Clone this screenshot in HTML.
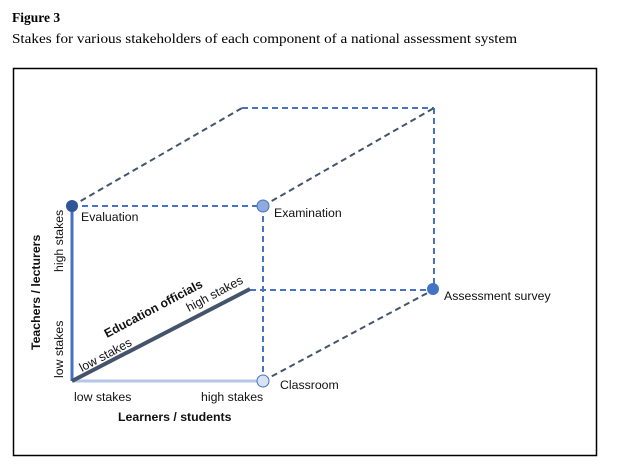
<!DOCTYPE html>
<html><head><meta charset="utf-8"><style>
html,body{margin:0;padding:0;background:#fff;width:619px;height:475px;overflow:hidden}
</style></head><body>
<svg width="619" height="475" xmlns="http://www.w3.org/2000/svg">
<text x="12" y="22" font-family="Liberation Serif, serif" font-size="13.5" font-weight="bold">Figure 3</text>
<text x="12" y="43" font-family="Liberation Serif, serif" font-size="14" textLength="505" lengthAdjust="spacingAndGlyphs">Stakes for various stakeholders of each component of a national assessment system</text>
<rect x="13.5" y="68.5" width="583" height="387" fill="none" stroke="#000" stroke-width="1.5"/>
<g fill="none" stroke-dasharray="6,4" stroke-width="2">
<line x1="72" y1="206" x2="263" y2="206" stroke="#4a72c4"/>
<line x1="263" y1="206" x2="263" y2="381" stroke="#4a72c4"/>
<line x1="242" y1="108" x2="434" y2="108" stroke="#4a72c4"/>
<line x1="434" y1="108" x2="434" y2="289" stroke="#4a72c4"/>
<line x1="250" y1="290" x2="433" y2="290" stroke="#4a72c4"/>
<line x1="72" y1="206" x2="242" y2="108" stroke="#44546a"/>
<line x1="263" y1="206" x2="434" y2="108" stroke="#44546a"/>
<line x1="263" y1="381" x2="433" y2="290" stroke="#44546a"/>
</g>
<line x1="72" y1="206" x2="72" y2="381" stroke="#4472c4" stroke-width="3"/>
<line x1="72" y1="381" x2="263" y2="381" stroke="#b4c7e7" stroke-width="3"/>
<line x1="72" y1="381" x2="250" y2="289" stroke="#44546a" stroke-width="4"/>
<circle cx="72" cy="206" r="6" fill="#2f5597"/>
<circle cx="263" cy="206" r="6" fill="#8faadc" stroke="#4472c4"/>
<circle cx="263" cy="381" r="6" fill="#dae3f3" stroke="#4472c4"/>
<circle cx="433" cy="289" r="6" fill="#4472c4"/>
<g font-family="Liberation Sans, sans-serif" font-size="12.3" fill="#111">
<text x="81" y="221">Evaluation</text>
<text x="274" y="217">Examination</text>
<text x="280" y="389">Classroom</text>
<text x="444" y="300">Assessment survey</text>
<text x="74" y="401">low stakes</text>
<text x="201" y="401">high stakes</text>
<text x="118" y="421" font-weight="bold">Learners / students</text>
<text transform="translate(63,378) rotate(-90)">low stakes</text>
<text transform="translate(63,272) rotate(-90)">high stakes</text>
<text transform="translate(40,350) rotate(-90)" font-weight="bold">Teachers / lecturers</text>
<text transform="translate(82,372) rotate(-28)">low stakes</text>
<text transform="translate(189,312) rotate(-28)">high stakes</text>
<text transform="translate(107,338) rotate(-28)" font-weight="bold">Education officials</text>
</g>
</svg>
</body></html>
